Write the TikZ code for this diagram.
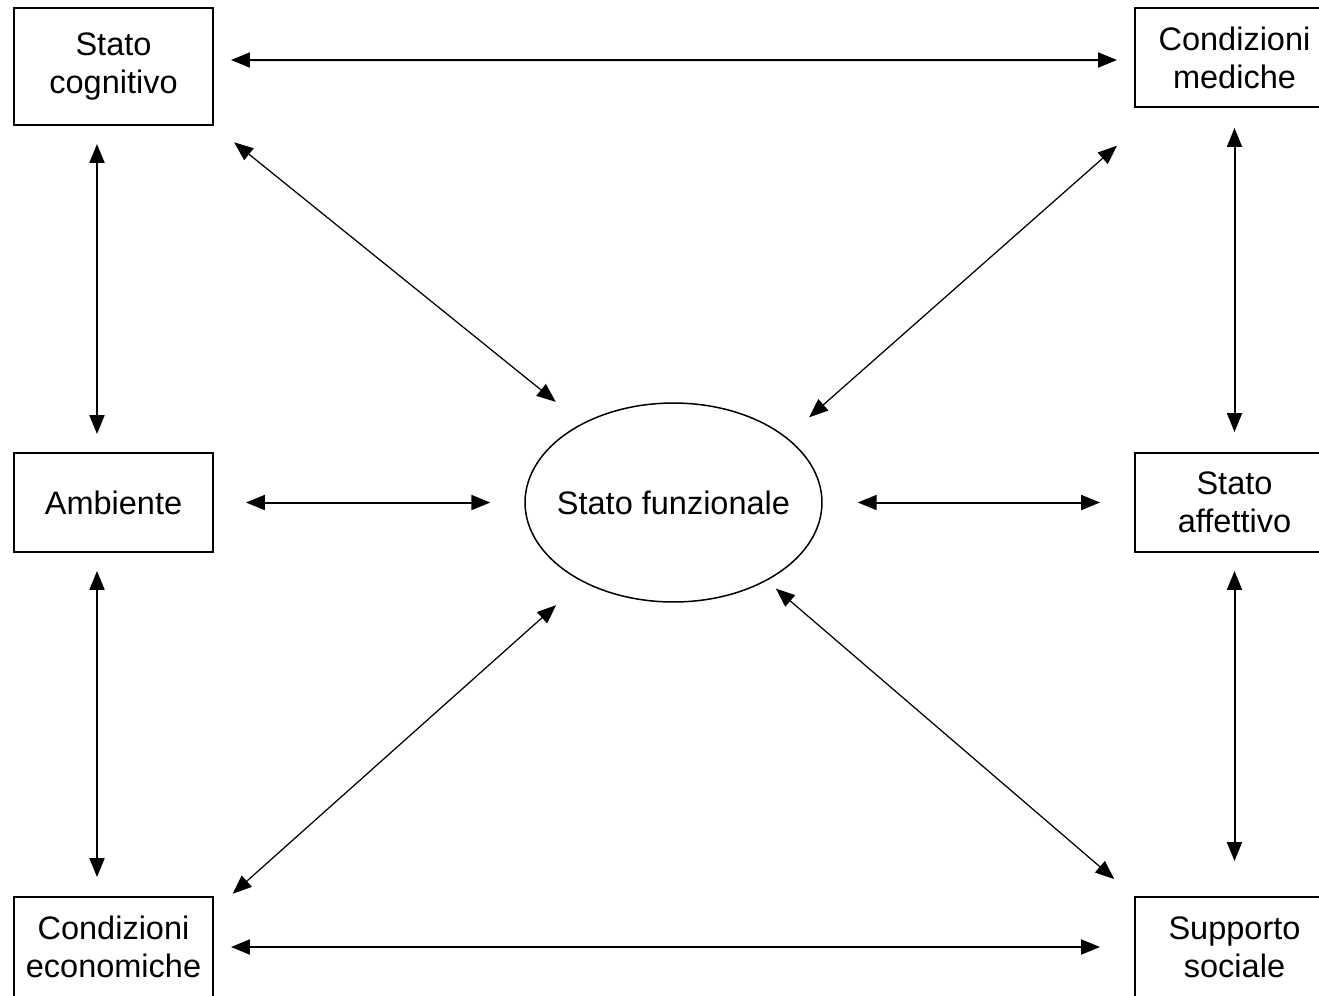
\documentclass[tikz,border=0pt]{standalone}
\usepackage{fontspec}
\setmainfont{Liberation Sans}
\usetikzlibrary{arrows.meta,shapes.geometric}

\begin{document}
\begin{tikzpicture}[x=0.02cm,y=-0.02cm,
    >={Triangle[length=0.38cm,width=0.3cm]},
    every node/.style={font=\fontsize{18.5}{21.6}\selectfont},
    casella/.style={draw,line width=0.04cm,minimum width=3.98cm,align=center,inner sep=0pt},
    freccia/.style={<->,line width=0.04cm},
    obliqua/.style={<->,line width=0.025cm}]
    \useasboundingbox (0,0) rectangle (1319,995);
    \fill[white] (0,0) rectangle (1319,995);
    %% caselle a sinistra
    \node[casella,minimum height=2.34cm] (cog) at (113.5,66.5) {Stato\\cognitivo};
    \node[casella,minimum height=1.98cm] (amb) at (113.5,502.5) {Ambiente};
    \node[casella,minimum height=2cm] (eco) at (113.5,947) {Condizioni\\economiche};
    %% caselle a destra (tagliate dal bordo)
    \node[casella,minimum height=1.98cm] (med) at (1234.5,57.5) {Condizioni\\mediche};
    \node[casella,minimum height=1.98cm] (aff) at (1234.5,502.5) {Stato\\affettivo};
    \node[casella,minimum height=2cm] (soc) at (1234.5,947) {Supporto\\sociale};
    %% ellisse centrale (inner xsep negativo: il testo non deve allargarla)
    \node[draw,ellipse,line width=0.03cm,minimum width=5.94cm,minimum height=3.98cm,inner xsep=-0.27cm,inner ysep=0pt] (fun) at (673.5,502.5) {Stato funzionale};
    %% frecce orizzontali
    \draw[freccia,shorten <=0.34cm,shorten >=0.34cm] ([yshift=0.13cm]cog.east) -- ([yshift=-0.05cm]med.west);
    \draw[freccia,shorten <=0.64cm,shorten >=0.68cm] (amb.east) -- (fun.west);
    \draw[freccia,shorten <=0.7cm,shorten >=0.68cm] (fun.east) -- (aff.west);
    \draw[freccia,shorten <=0.34cm,shorten >=0.68cm] (eco.east) -- (soc.west);
    %% frecce verticali
    \draw[freccia,shorten <=0.36cm,shorten >=0.36cm] ([xshift=-0.33cm]cog.south) -- ([xshift=-0.33cm]amb.north);
    \draw[freccia,shorten <=0.36cm,shorten >=0.38cm] ([xshift=-0.33cm]amb.south) -- ([xshift=-0.33cm]eco.north);
    \draw[freccia,shorten <=0.4cm,shorten >=0.4cm] (med.south) -- (aff.north);
    \draw[freccia,shorten <=0.36cm,shorten >=0.7cm] (aff.south) -- (soc.north);
    %% frecce oblique verso lo stato funzionale
    \draw[obliqua,shorten <=0.52cm,shorten >=0.68cm] (cog.south east) -- (fun.139);
    \draw[obliqua,shorten <=1.14cm,shorten >=0.6cm] (med.214) -- (fun.30);
    \draw[obliqua,shorten <=0.5cm,shorten >=0.7cm] (eco.20) -- (fun.221);
    \draw[obliqua,shorten <=0.24cm,shorten >=0.52cm] (fun.320) -- (soc.north west);
\end{tikzpicture}
\end{document}
